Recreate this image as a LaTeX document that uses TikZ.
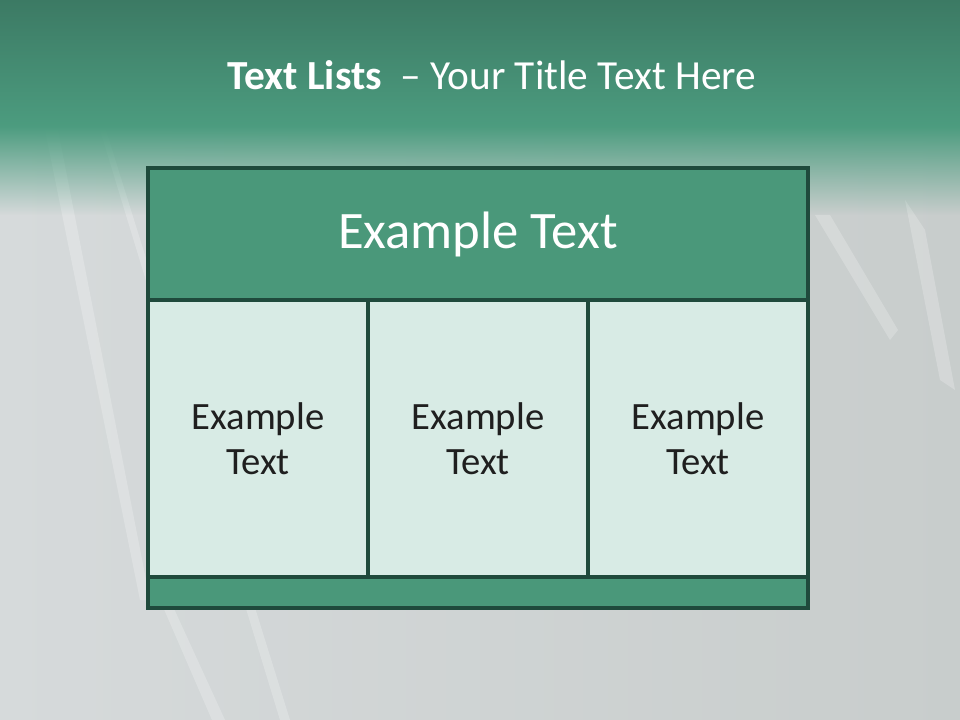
\documentclass[tikz,border=0pt]{standalone}
\usepackage{fontspec}
\setmainfont{Carlito}
\usepackage{xcolor}
\definecolor{barTop}     {HTML}{3C7A64}
\definecolor{barBottom}  {HTML}{4C9C7F}
\definecolor{slideBack}  {HTML}{C8CDCC}
\definecolor{slideLight} {HTML}{D6DADB}
\definecolor{headBack}   {HTML}{4A987A}
\definecolor{cellBack}   {HTML}{D8EBE5}
\definecolor{tableLine}  {HTML}{1F4A3C}
\usetikzlibrary{positioning, fadings}
\tikzset{
    tablebox/.style={draw=tableLine, line width=2.5pt, outer sep=0pt,
                     inner sep=0pt, align=center},
    headbox/.style={tablebox, fill=headBack, text=white,
                    minimum width=495pt, minimum height=99pt,
                    font=\fontsize{39.5}{46}\selectfont},
    cellbox/.style={tablebox, fill=cellBack, text=black!88,
                    minimum width=165pt, minimum height=207.75pt,
                    font=\fontsize{29}{34}\selectfont},
    footbox/.style={tablebox, fill=headBack,
                     minimum width=495pt, minimum height=23.25pt},
    streak/.style={white, opacity=0.22},
}
\begin{document}
\begin{tikzpicture}[x=0.75pt, y=-0.75pt]
    \useasboundingbox (0,0) rectangle (960,720);
    \fill[left color=slideLight, right color=slideBack] (0,0) rectangle (960,720);
    \fill[streak] (45,130) -- (58,130) -- (150,600) -- (140,600) -- cycle;
    \fill[streak] (100,130) -- (106,130) -- (290,720) -- (280,720) -- cycle;
    \fill[streak] (160,600) -- (170,600) -- (225,720) -- (212,720) -- cycle;
    \fill[streak] (905,200) -- (925,230) -- (955,390) -- (940,380) -- cycle;
    \fill[streak] (815,215) -- (830,215) -- (898,330) -- (890,340) -- cycle;
    \fill[barBottom, path fading=south] (0,126) rectangle (960,215);
    \fill[top color=barTop, bottom color=barBottom] (0,0) rectangle (960,127);
    \node[text=white, font=\fontsize{31}{37}\selectfont] (title) at (492,75)
        {\textbf{Text Lists}\ \ – Your Title Text Here};
    \node[headbox, anchor=north west] (head) at (148,168) {Example Text};
    \node[cellbox, anchor=north west] (left) at (head.south west)
        {Example\\Text};
    \node[cellbox, right=0pt of left] (middle) {Example\\Text};
    \node[cellbox, right=0pt of middle] (right) {Example\\Text};
    \node[footbox, anchor=north west] (foot) at (left.south west) {};
\end{tikzpicture}
\end{document}
